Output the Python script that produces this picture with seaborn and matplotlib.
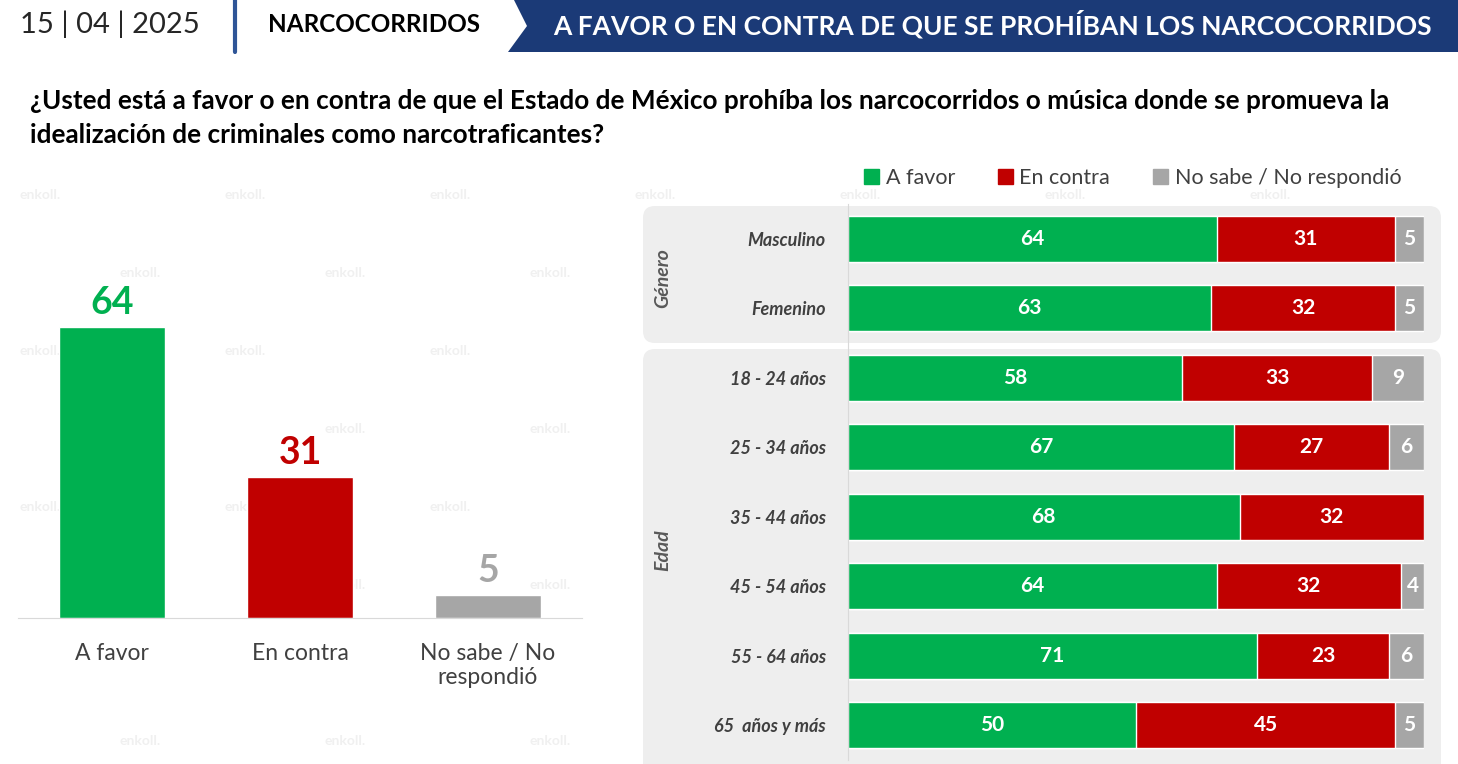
import matplotlib
matplotlib.use("Agg")
import matplotlib.pyplot as plt
import seaborn as sns
import pandas as pd
from matplotlib.patches import FancyBboxPatch, Polygon, Patch

# ---- data ----
total_cats = ["A favor", "En contra", "No sabe / No\nrespondió"]
total_vals = [64, 31, 5]

groups = ["Masculino", "Femenino", "18 - 24 años", "25 - 34 años", "35 - 44 años",
          "45 - 54 años", "55 - 64 años", "65  años y más"]
favor = [64, 63, 58, 67, 68, 64, 71, 50]
contra = [31, 32, 33, 27, 32, 32, 23, 45]
nosabe = [5, 5, 9, 6, 0, 4, 6, 5]

legend_labels = ["A favor", "En contra", "No sabe / No respondió"]
colors = ["#00b050", "#c00000", "#a6a6a6"]

W, H = 1458, 764
FONT = "Lato"

sns.set_style("white")
plt.rcParams["font.family"] = [FONT, "DejaVu Sans"]


def fig_rect(x0, y0, x1, y1):
    # pixel box (top-left origin) -> figure fraction rect
    return [x0 / W, 1 - y1 / H, (x1 - x0) / W, (y1 - y0) / H]


fig = plt.figure(figsize=(W / 100, H / 100), dpi=100)

# background / decoration axes in pixel units
bg = fig.add_axes([0, 0, 1, 1])
bg.set_xlim(0, W)
bg.set_ylim(H, 0)
bg.axis("off")

# faint watermark, kept off the labels and the right panel
for r, yy in enumerate(range(195, 764, 78)):
    off = 0 if r % 2 == 0 else 100
    for xx in range(20 + off, W - 60, 205):
        if xx > 560 and yy > 200:
            continue
        if 630 < yy < 700:
            continue
        bg.text(xx, yy, "enkoll.", color="#f0f0f0", fontsize=10,
                fontweight="bold", ha="left", va="center", zorder=0)

# header
bg.text(20, 24, "15 | 04 | 2025", fontsize=21, fontweight="normal",
        color="#262626", va="center", ha="left")
bg.plot([235, 235], [0, 52], color="#2f5597", lw=3)
bg.text(268, 24, "NARCOCORRIDOS", fontsize=17.5, fontweight="bold",
        color="black", va="center", ha="left")
bg.add_patch(Polygon([(514, 0), (W, 0), (W, 52), (508, 52), (527, 26)],
                     closed=True, color="#1b3a77", lw=0))
bg.text(992, 24, "A FAVOR O EN CONTRA DE QUE SE PROHÍBAN LOS NARCOCORRIDOS",
        fontsize=19, fontweight="bold", color="white", va="center", ha="center")

# question
bg.text(30, 101, "¿Usted está a favor o en contra de que el Estado de México prohíba "
        "los narcocorridos o música donde se promueva la", fontsize=18.8,
        fontweight="bold", color="black", va="center", ha="left")
bg.text(30, 135, "idealización de criminales como narcotraficantes?", fontsize=18.8,
        fontweight="bold", color="black", va="center", ha="left")

# grey panels behind the right chart
for y0, y1 in [(206, 343), (349, 790)]:
    bg.add_patch(FancyBboxPatch((643, y0), 798, y1 - y0,
                                boxstyle="round,pad=0,rounding_size=12",
                                fc="#eeeeee", ec="none", zorder=1))
bg.text(663, 278, "Género", rotation=90, fontsize=14, fontweight="bold",
        style="italic", color="#595959", ha="center", va="center", zorder=2)
bg.text(663, 550, "Edad", rotation=90, fontsize=14, fontweight="bold",
        style="italic", color="#595959", ha="center", va="center", zorder=2)

# ---- left chart ----
ax1 = fig.add_axes(fig_rect(18, 200, 582, 618))
ax1.patch.set_alpha(0)
df_total = pd.DataFrame({"cat": total_cats, "val": total_vals})
sns.barplot(data=df_total, x="cat", y="val", hue="cat", palette=colors,
            width=0.56, legend=False, ax=ax1, saturation=1)
ax1.set_xlim(-0.5, 2.5)
ax1.set_ylim(0, 92)
for i, v in enumerate(total_vals):
    ax1.text(i, v + 1.5, str(v), ha="center", va="bottom", fontsize=27,
             fontweight="bold", color=colors[i])
for s in ["top", "right", "left"]:
    ax1.spines[s].set_visible(False)
ax1.spines["bottom"].set_color("#d9d9d9")
ax1.set_yticks([])
ax1.set_xticks([-0.5, 0.5, 1.5, 2.5], minor=True)
ax1.tick_params(axis="x", which="minor", length=8, color="#d9d9d9", direction="out")
ax1.tick_params(axis="x", which="major", length=0, pad=18, labelsize=16.5,
                labelcolor="#404040")
ax1.set_xlabel("")
ax1.set_ylabel("")

# ---- right chart (stacked) ----
ax2 = fig.add_axes(fig_rect(848, 204, 1424, 760))
ax2.patch.set_alpha(0)
ax2.set_zorder(3)
df = pd.DataFrame({"grupo": groups, "favor": favor, "contra": contra, "nosabe": nosabe})
df["c2"] = df["favor"] + df["contra"]
df["c3"] = df["c2"] + df["nosabe"]
for col, c in [("c3", colors[2]), ("c2", colors[1]), ("favor", colors[0])]:
    sns.barplot(data=df, y="grupo", x=col, color=c, orient="h", width=0.66,
                saturation=1, ax=ax2)
ax2.set_xlim(0, 100)
ax2.set_ylim(7.5, -0.5)
for i, row in df.iterrows():
    ax2.text(row["favor"] / 2, i, str(row["favor"]), ha="center", va="center",
             color="white", fontsize=15, fontweight="bold")
    ax2.text(row["favor"] + row["contra"] / 2, i, str(row["contra"]), ha="center",
             va="center", color="white", fontsize=15, fontweight="bold")
    if row["nosabe"] > 0:
        ax2.text(row["c2"] + row["nosabe"] / 2, i, str(row["nosabe"]), ha="center",
                 va="center", color="white", fontsize=15, fontweight="bold")
for s in ["top", "right", "bottom"]:
    ax2.spines[s].set_visible(False)
ax2.spines["left"].set_color("#d9d9d9")
ax2.set_xticks([])
ax2.set_yticks([i - 0.5 for i in range(9)], minor=True)
ax2.tick_params(axis="y", which="minor", length=7, color="#d9d9d9")
ax2.tick_params(axis="y", which="major", length=0, pad=16)
for lab in ax2.get_yticklabels():
    lab.set_fontweight("bold")
    lab.set_fontstyle("italic")
    lab.set_fontsize(13)
    lab.set_color("#404040")
ax2.set_xlabel("")
ax2.set_ylabel("")

handles = [Patch(color=c) for c in colors]
fig.legend(handles, legend_labels, loc="center left",
           bbox_to_anchor=(864 / W, 1 - 178 / H), ncol=3, frameon=False,
           borderpad=0, borderaxespad=0,
           fontsize=15.5, handlelength=0.7, handleheight=0.7, handletextpad=0.3,
           columnspacing=2.0, labelcolor="#404040")

fig.savefig("out.png", dpi=100)
